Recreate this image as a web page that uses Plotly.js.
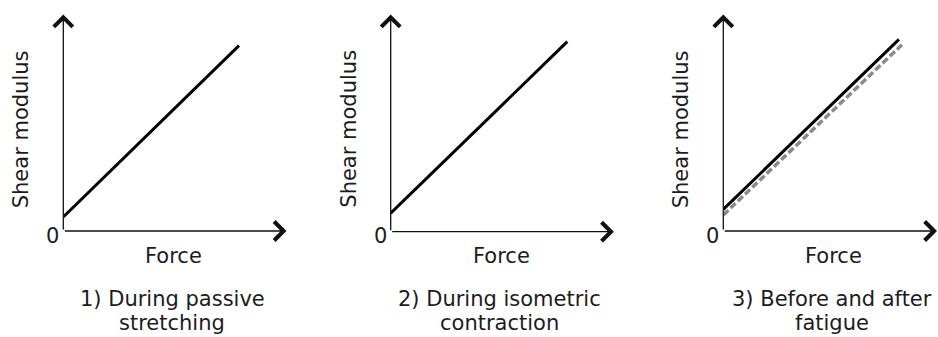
<!DOCTYPE html>
<html>
<head>
<meta charset="utf-8">
<script src="https://cdn.plot.ly/plotly-3.0.1.min.js"></script>
<style>
  html, body { margin: 0; padding: 0; background: #fff; }
  #chart { width: 938px; height: 337px; }
</style>
</head>
<body>
<div id="chart"></div>
<script>
// values (force in arbitrary units, shear modulus in arbitrary units)
const forceP1 = [0, 7.87];
const shearP1 = [0.65, 8.56];

const forceP2 = [0, 7.91];
const shearP2 = [0.85, 8.75];

const forceP3Solid = [0, 7.87];
const shearP3Solid = [1.0, 8.85];
const forceP3Dashed = [0, 8.0];
const shearP3Dashed = [0.74, 8.6];

const panelTitles = [
  ["1) During passive", "stretching"],
  ["2) During isometric", "contraction"],
  ["3) Before and after", "fatigue"]
];
const xLabel = "Force";
const yLabel = "Shear modulus";
const originLabel = "0";

// page geometry (pixels)
const W = 938, H = 337;
const panelLeft = [63.3, 390.7, 723.3];   // where the y arrow sits
const panelBottom = [231, 231.7, 231];    // where the x arrow sits
const panelTop = 14.5;
const panelWidth = 223.2;                  // axis length up to the arrow tip

const px = x => x / W;
const py = y => 1 - y / H;

const font = {family: "DejaVu Sans, sans-serif", size: 21, color: "#1c1c1c"};

const traces = [
  {x: forceP1, y: shearP1, xaxis: "x", yaxis: "y", mode: "lines",
   line: {color: "#000", width: 3}},
  {x: forceP2, y: shearP2, xaxis: "x2", yaxis: "y2", mode: "lines",
   line: {color: "#000", width: 3}},
  {x: forceP3Dashed, y: shearP3Dashed, xaxis: "x3", yaxis: "y3", mode: "lines",
   line: {color: "#8a8a8a", width: 3.5, dash: "7px,3px"}},
  {x: forceP3Solid, y: shearP3Solid, xaxis: "x3", yaxis: "y3", mode: "lines",
   line: {color: "#000", width: 3}}
];

const layout = {
  width: W, height: H,
  margin: {l: 0, r: 0, t: 0, b: 0},
  paper_bgcolor: "#fff",
  plot_bgcolor: "rgba(0,0,0,0)",
  showlegend: false,
  font: font,
  annotations: []
};

panelLeft.forEach((left, i) => {
  const n = i === 0 ? "" : String(i + 1);
  const right = Math.min(left + panelWidth, W);
  const unitsX = 10 * (right - left) / panelWidth;
  layout["xaxis" + n] = {
    domain: [px(left), px(right)], range: [0, unitsX],
    visible: false, fixedrange: true, anchor: "y" + n
  };
  layout["yaxis" + n] = {
    domain: [py(panelBottom[i]), py(panelTop)], range: [0, 10],
    visible: false, fixedrange: true, anchor: "x" + n
  };

  const arrow = {
    text: "", showarrow: true, arrowhead: 4, arrowsize: 2.8, arrowwidth: 1.3,
    arrowcolor: "#111", standoff: 0, xref: "paper", yref: "paper"
  };
  // vertical arrow
  layout.annotations.push(Object.assign({}, arrow, {
    x: px(left), y: py(panelTop), ax: 0, ay: panelBottom[i] - panelTop
  }));
  // horizontal arrow
  layout.annotations.push(Object.assign({}, arrow, {
    x: px(left + panelWidth), y: py(panelBottom[i]), ax: -panelWidth, ay: 0
  }));

  const txt = {showarrow: false, xref: "paper", yref: "paper",
               xanchor: "center", yanchor: "middle", font: font};
  layout.annotations.push(Object.assign({}, txt, {
    text: originLabel, x: px(left - 10.5), y: py(236)
  }));
  layout.annotations.push(Object.assign({}, txt, {
    text: xLabel, x: px(left + 110.5), y: py(256)
  }));
  layout.annotations.push(Object.assign({}, txt, {
    text: yLabel, textangle: -90, x: px(left - 42), y: py(129)
  }));
  layout.annotations.push(Object.assign({}, txt, {
    text: panelTitles[i][0], x: px(left + 109), y: py(299)
  }));
  layout.annotations.push(Object.assign({}, txt, {
    text: panelTitles[i][1], x: px(left + 109), y: py(322.5)
  }));
});

Plotly.newPlot("chart", traces, layout, {staticPlot: true, displayModeBar: false});
</script>
</body>
</html>
